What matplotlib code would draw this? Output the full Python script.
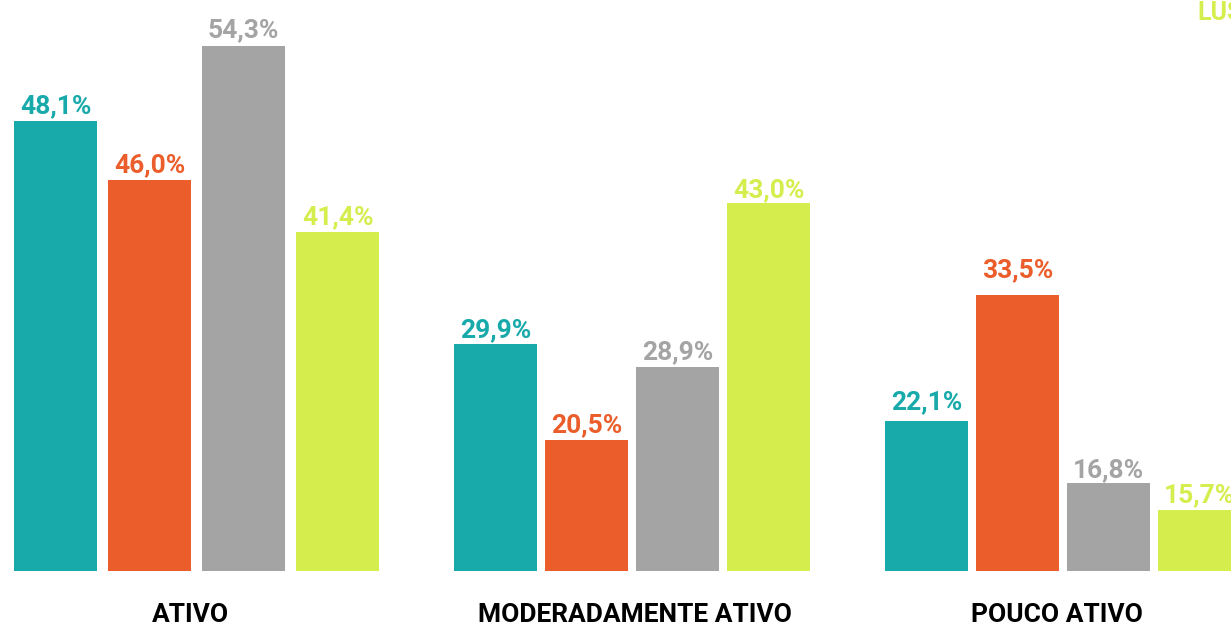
import matplotlib
matplotlib.use('Agg')
from matplotlib import pyplot as plt

categories = ['ATIVO', 'MODERADAMENTE ATIVO', 'POUCO ATIVO']
# rotulos dos valores (%), por serie
labels_s1 = ['48,1%', '29,9%', '22,1%']
labels_s2 = ['46,0%', '20,5%', '33,5%']
labels_s3 = ['54,3%', '28,9%', '16,8%']
labels_s4 = ['41,4%', '43,0%', '15,7%']
# alturas das barras como aparecem no grafico original
heights_s1 = [450, 227, 150]
heights_s2 = [391, 131, 276]
heights_s3 = [525, 204, 88]
heights_s4 = [339, 368, 61]
legend_text = 'LUSÓFONOS'

colors = ['#18AAAA', '#EB5E2C', '#A4A4A4', '#D6ED4E']

series_labels = [labels_s1, labels_s2, labels_s3, labels_s4]
series_heights = [heights_s1, heights_s2, heights_s3, heights_s4]
# distancia rotulo -> topo da barra (px)
label_gap = [[8, 7, 12], [8, 8, 18], [9, 8, 6], [8, 6, 8]]

plt.rcParams['font.family'] = ['Roboto', 'DejaVu Sans']

fig = plt.figure(figsize=(12.31, 6.24), dpi=100)
ax = fig.add_axes([0, 0, 1, 1])
ax.set_xlim(0, 1231)
ax.set_ylim(-53, 571)
ax.axis('off')

group_left = [14, 454, 885]
step = [94, 91, 91]
bar_w = 83
cat_x = [190, 635, 1057]

for g in range(len(categories)):
    for i in range(4):
        x = group_left[g] + i * step[g] + bar_w / 2
        h = series_heights[i][g]
        ax.bar(x, h, width=bar_w, color=colors[i], linewidth=0)
        ax.text(x, h + label_gap[i][g], series_labels[i][g], ha='center', va='baseline',
                fontsize=19, fontweight='bold', color=colors[i])
    ax.text(cat_x[g], -51, categories[g], ha='center', va='baseline',
            fontsize=19, fontweight='bold', color='black')

ax.text(1197, 551, legend_text, ha='left', va='baseline',
        fontsize=18, fontweight='bold', color=colors[3])

fig.savefig('out.png', dpi=100)
